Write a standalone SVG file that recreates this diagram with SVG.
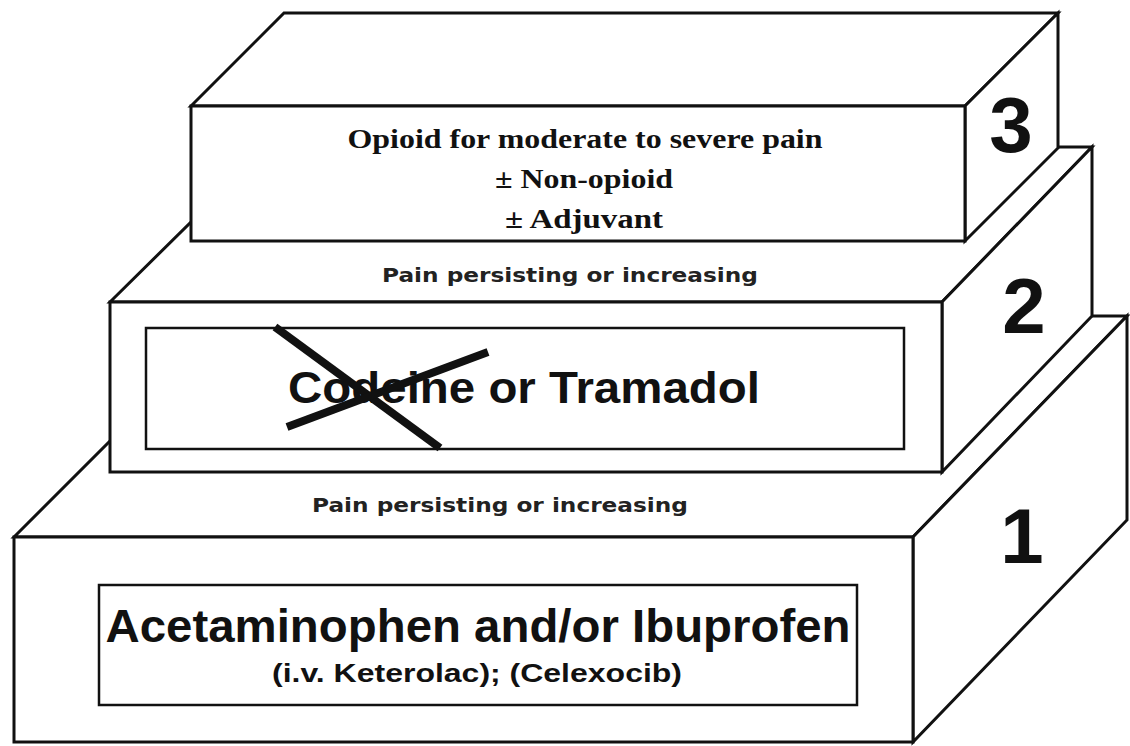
<svg xmlns="http://www.w3.org/2000/svg" width="1130" height="746" viewBox="0 0 1130 746">
<style>
.face{fill:#fff;stroke:#111;stroke-width:3;stroke-linejoin:miter}
.inner{fill:none;stroke:#111;stroke-width:2.5}
.num{font-family:"Liberation Sans",Arial,sans-serif;font-weight:bold;font-size:78px;fill:#111;text-anchor:middle}
.serif{font-family:"Liberation Serif","Times New Roman",serif;font-weight:bold;font-size:27px;fill:#111;text-anchor:middle}
.pain{font-family:"DejaVu Sans","Liberation Sans",sans-serif;font-weight:bold;font-size:20px;fill:#222;text-anchor:middle}
.big{font-family:"Liberation Sans",Arial,sans-serif;font-weight:bold;fill:#111;text-anchor:middle}
.cross{stroke:#111;stroke-width:8;stroke-linecap:butt}
</style>
<rect width="1130" height="746" fill="#fff"/>
<g id="step1">
<polygon class="face" points="14,537 235,316 1127,316 913,537"/>
<polygon class="face" points="913,537 1127,316 1127,520 913,742"/>
<rect class="face" x="14" y="537" width="899" height="205"/>
<rect class="inner" x="99" y="585" width="758" height="120"/>
<text class="big" x="478" y="642" font-size="47" textLength="745" lengthAdjust="spacingAndGlyphs">Acetaminophen and/or Ibuprofen</text>
<text class="big" x="477" y="682" font-size="25" textLength="410" lengthAdjust="spacingAndGlyphs">(i.v. Keterolac); (Celexocib)</text>
<text class="num" x="1022" y="563">1</text>
<text class="pain" x="500" y="512" textLength="376" lengthAdjust="spacingAndGlyphs">Pain persisting or increasing</text>
</g>
<g id="step2">
<polygon class="face" points="110,302 267,147 1092,147 942,302"/>
<polygon class="face" points="942,302 1092,147 1092,316 942,472"/>
<rect class="face" x="110" y="302" width="832" height="170"/>
<rect class="inner" x="146" y="328" width="758" height="121"/>
<text class="big" x="524" y="403" font-size="44" textLength="472" lengthAdjust="spacingAndGlyphs">Codeine or Tramadol</text>
<text class="num" x="1024" y="333">2</text>
<text class="pain" x="570" y="282" textLength="376" lengthAdjust="spacingAndGlyphs">Pain persisting or increasing</text>
</g>
<g id="step3">
<polygon class="face" points="191,106 284,13 1058,13 965,106"/>
<polygon class="face" points="965,106 1058,13 1058,148 965,241"/>
<rect class="face" x="191" y="106" width="774" height="135"/>
<text class="serif" x="585" y="148" textLength="475" lengthAdjust="spacingAndGlyphs">Opioid for moderate to severe pain</text>
<text class="serif" x="584" y="188" textLength="178" lengthAdjust="spacingAndGlyphs">± Non-opioid</text>
<text class="serif" x="584" y="228" textLength="158" lengthAdjust="spacingAndGlyphs">± Adjuvant</text>
<text class="num" x="1011" y="152">3</text>
</g>
<g id="connectors">
<line class="cross" x1="275" y1="327" x2="440" y2="448"/>
<line class="cross" x1="287" y1="427" x2="488" y2="352"/>
</g>
</svg>
